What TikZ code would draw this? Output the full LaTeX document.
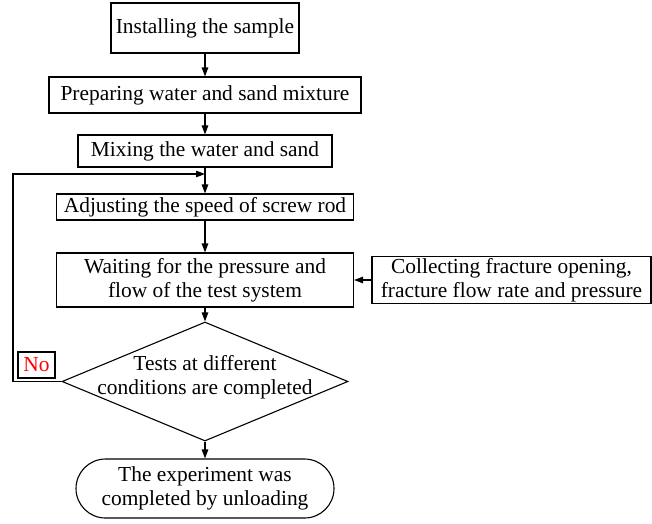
\documentclass[tikz,border=0pt]{standalone}
\usepackage{fontspec}
\setmainfont{Liberation Serif}
\usetikzlibrary{arrows.meta}
\usetikzlibrary{shapes.geometric}
\usetikzlibrary{shapes.misc}

\tikzset{
  stepbox/.style={draw, line width=1.1pt, inner sep=0pt, align=center,
    font=\fontsize{21.4}{24}\selectfont},
  flow/.style={line width=1.1pt, -{Triangle[length=9pt,width=6.5pt]}},
}

\begin{document}
\begin{tikzpicture}[x=1pt,y=-1pt]

\useasboundingbox (0,0) rectangle (652,523);

\def\midx{205}

\node[stepbox, minimum width=188pt, minimum height=50pt] (install) at (\midx,28) {Installing the sample};
\node[stepbox, minimum width=312pt, minimum height=36pt] (prepare) at (\midx,95) {Preparing water and sand mixture};
\node[stepbox, minimum width=254pt, minimum height=32pt] (mixing) at (\midx,151) {Mixing the water and sand};
\node[stepbox, minimum width=297pt, minimum height=26pt] (adjust) at (\midx,207) {Adjusting the speed of screw rod};
\node[stepbox, minimum width=297pt, minimum height=54pt] (waiting) at (\midx,280) {Waiting for the pressure and\\flow of the test system};
\node[stepbox, minimum width=279pt, minimum height=47pt] (collect) at (511.5,280) {Collecting fracture opening,\\fracture flow rate and pressure};

% decision
\node[stepbox, diamond, minimum width=286pt, minimum height=119pt] (tests) at (\midx,381.5) {};
\node[align=center, inner sep=0pt, font=\fontsize{21.4}{24}\selectfont] (teststxt) at (\midx,377) {Tests at different\\conditions are completed};

\node[stepbox, rounded rectangle, minimum width=258pt, minimum height=59pt] (unload) at (\midx,488.5) {The experiment was\\completed by unloading};

\node[stepbox, text=red, minimum width=37pt, minimum height=26pt] (no) at (36.5,365) {No};

\coordinate (join) at (\midx,174);
\coordinate (back) at (13,174);

\draw[flow] (install) -- (prepare);
\draw[flow] (prepare) -- (mixing);
\draw[flow] (mixing) -- (join) -- (adjust);
\draw[flow] (adjust) -- (waiting);
\draw[flow] (collect) -- (waiting);
\draw[flow] (waiting) -- (tests);
\draw[flow] (tests) -- (unload);

\draw[flow] (tests.west) -- (tests.west -| back) -- (back) -- (join);

\end{tikzpicture}
\end{document}
